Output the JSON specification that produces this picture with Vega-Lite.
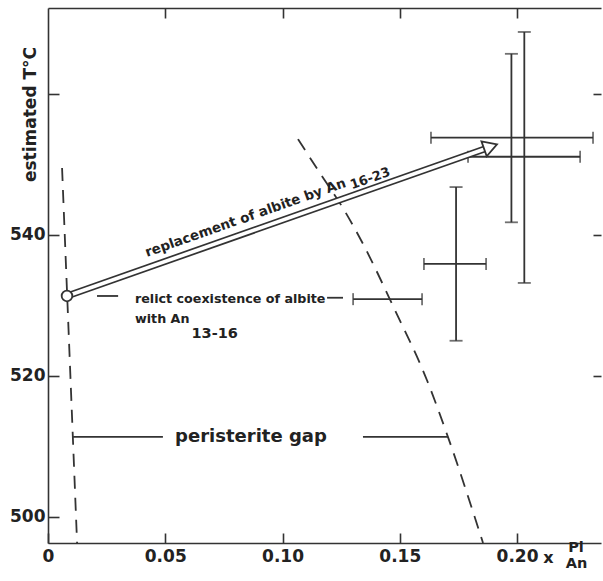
{
  "$schema": "https://vega.github.io/schema/vega-lite/v6.json",
  "width": 553,
  "height": 535,
  "autosize": {"type": "none"},
  "padding": {"left": 48, "top": 8, "right": 2, "bottom": 38},
  "background": "white",
  "config": {
    "view": {"stroke": null},
    "font": "DejaVu Sans",
    "axis": {
      "grid": false,
      "domainColor": "#333",
      "domainWidth": 1.6,
      "tickColor": "#333",
      "tickWidth": 1.6,
      "labelFont": "DejaVu Sans",
      "labelFontSize": 17,
      "labelFontWeight": "bold",
      "labelColor": "#222",
      "labelFlush": false,
      "labelOverlap": false,
      "titleFont": "DejaVu Sans",
      "titleColor": "#222"
    }
  },
  "datasets": {
    "bars": [
      {"x": 0.1976, "y": 553.8, "xlo": 0.1633, "xhi": 0.2324, "ylo": 541.8, "yhi": 565.7},
      {"x": 0.2031, "y": 551.1, "xlo": 0.1791, "xhi": 0.2269, "ylo": 533.2, "yhi": 568.8},
      {"x": 0.1740, "y": 535.9, "xlo": 0.1603, "xhi": 0.1868, "ylo": 525.0, "yhi": 546.8},
      {"x": 0.1448, "y": 530.9, "xlo": 0.1301, "xhi": 0.1595, "ylo": null, "yhi": null}
    ],
    "dashed": [
      {"id": "L", "x": 0.0060, "y": 549.5},
      {"id": "L", "x": 0.0124, "y": 496.31},
      {"id": "R", "x": 0.1066, "y": 553.6},
      {"id": "R", "x": 0.1165, "y": 548.5},
      {"id": "R", "x": 0.1258, "y": 543.8},
      {"id": "R", "x": 0.1339, "y": 539.0},
      {"id": "R", "x": 0.1480, "y": 529.3},
      {"id": "R", "x": 0.1616, "y": 519.4},
      {"id": "R", "x": 0.1706, "y": 511.3},
      {"id": "R", "x": 0.1855, "y": 496.31}
    ],
    "segments": [
      {"x1": 0.0107, "x2": 0.0490, "y": 511.35},
      {"x1": 0.1343, "x2": 0.1706, "y": 511.35},
      {"x1": 0.0209, "x2": 0.0299, "y": 531.35},
      {"x1": 0.1190, "x2": 0.1258, "y": 531.1}
    ],
    "arrow": [
      {"x": 0.0081, "y": 531.35},
      {"x": 0.18678, "y": 552.27}
    ]
  },
  "resolve": {"axis": {"x": "independent", "y": "independent"}},
  "layer": [
    {
      "data": {"name": "dashed"},
      "mark": {"type": "line", "strokeDash": [13, 9], "strokeWidth": 1.8, "color": "#333", "interpolate": "monotone"},
      "encoding": {
        "x": {"field": "x", "type": "quantitative", "scale": {"domain": [0, 0.2358], "nice": false, "zero": false}, "axis": null},
        "y": {"field": "y", "type": "quantitative", "scale": {"domain": [496.31, 572.2], "nice": false, "zero": false}, "axis": null},
        "detail": {"field": "id"}
      }
    },
    {
      "data": {"name": "segments"},
      "mark": {"type": "rule", "strokeWidth": 1.8, "color": "#333"},
      "encoding": {
        "x": {"field": "x1", "type": "quantitative", "scale": {"domain": [0, 0.2358], "nice": false, "zero": false}, "axis": null},
        "x2": {"field": "x2"},
        "y": {"field": "y", "type": "quantitative", "scale": {"domain": [496.31, 572.2], "nice": false, "zero": false}, "axis": null}
      }
    },
    {
      "data": {"name": "bars"},
      "mark": {"type": "rule", "strokeWidth": 1.8, "color": "#333"},
      "encoding": {
        "x": {"field": "xlo", "type": "quantitative", "scale": {"domain": [0, 0.2358], "nice": false, "zero": false},
          "axis": {"orient": "bottom", "values": [0, 0.05, 0.1, 0.15, 0.2], "labelExpr": "datum.value == 0 ? '0' : format(datum.value, '.2f')", "tickSize": -10, "labelPadding": 15, "title": null}},
        "x2": {"field": "xhi"},
        "y": {"field": "y", "type": "quantitative", "scale": {"domain": [496.31, 572.2], "nice": false, "zero": false},
          "axis": {"orient": "left", "values": [500, 520, 540, 560], "labelExpr": "datum.value == 560 ? '' : datum.label", "tickSize": -11, "labelPadding": 14,
            "title": "estimated T°C", "titleX": -13, "titleY": 106, "titleAngle": -90, "titleAlign": "center", "titleBaseline": "alphabetic", "titleFontSize": 17, "titleFontWeight": "bold"}}
      }
    },
    {
      "data": {"name": "bars"},
      "transform": [{"filter": "isValid(datum.ylo)"}],
      "mark": {"type": "rule", "strokeWidth": 1.8, "color": "#333"},
      "encoding": {
        "x": {"field": "x", "type": "quantitative", "scale": {"domain": [0, 0.2358], "nice": false, "zero": false},
          "axis": {"orient": "top", "values": [0.05, 0.1, 0.15, 0.2], "tickSize": -10, "labels": false, "title": null}},
        "y": {"field": "ylo", "type": "quantitative", "scale": {"domain": [496.31, 572.2], "nice": false, "zero": false},
          "axis": {"orient": "right", "values": [520, 540, 560], "tickSize": -8, "labels": false, "domain": false, "title": null}},
        "y2": {"field": "yhi"}
      }
    },
    {
      "data": {"name": "bars"},
      "mark": {"type": "tick", "orient": "vertical", "size": 12, "thickness": 1.8, "color": "#333"},
      "encoding": {
        "x": {"field": "xlo", "type": "quantitative", "scale": {"domain": [0, 0.2358], "nice": false, "zero": false}, "axis": null},
        "y": {"field": "y", "type": "quantitative", "scale": {"domain": [496.31, 572.2], "nice": false, "zero": false}, "axis": null}
      }
    },
    {
      "data": {"name": "bars"},
      "mark": {"type": "tick", "orient": "vertical", "size": 12, "thickness": 1.8, "color": "#333"},
      "encoding": {
        "x": {"field": "xhi", "type": "quantitative", "scale": {"domain": [0, 0.2358], "nice": false, "zero": false}, "axis": null},
        "y": {"field": "y", "type": "quantitative", "scale": {"domain": [496.31, 572.2], "nice": false, "zero": false}, "axis": null}
      }
    },
    {
      "data": {"name": "bars"},
      "transform": [{"filter": "isValid(datum.ylo)"}],
      "mark": {"type": "tick", "orient": "horizontal", "size": 13, "thickness": 1.8, "color": "#333"},
      "encoding": {
        "x": {"field": "x", "type": "quantitative", "scale": {"domain": [0, 0.2358], "nice": false, "zero": false}, "axis": null},
        "y": {"field": "ylo", "type": "quantitative", "scale": {"domain": [496.31, 572.2], "nice": false, "zero": false}, "axis": null}
      }
    },
    {
      "data": {"name": "bars"},
      "transform": [{"filter": "isValid(datum.yhi)"}],
      "mark": {"type": "tick", "orient": "horizontal", "size": 13, "thickness": 1.8, "color": "#333"},
      "encoding": {
        "x": {"field": "x", "type": "quantitative", "scale": {"domain": [0, 0.2358], "nice": false, "zero": false}, "axis": null},
        "y": {"field": "yhi", "type": "quantitative", "scale": {"domain": [496.31, 572.2], "nice": false, "zero": false}, "axis": null}
      }
    },
    {
      "data": {"name": "arrow"},
      "mark": {"type": "line", "strokeWidth": 7, "color": "#333", "strokeCap": "butt"},
      "encoding": {
        "x": {"field": "x", "type": "quantitative", "scale": {"domain": [0, 0.2358], "nice": false, "zero": false}, "axis": null},
        "y": {"field": "y", "type": "quantitative", "scale": {"domain": [496.31, 572.2], "nice": false, "zero": false}, "axis": null}
      }
    },
    {
      "data": {"name": "arrow"},
      "mark": {"type": "line", "strokeWidth": 3.6, "color": "white", "strokeCap": "butt"},
      "encoding": {
        "x": {"field": "x", "type": "quantitative", "scale": {"domain": [0, 0.2358], "nice": false, "zero": false}, "axis": null},
        "y": {"field": "y", "type": "quantitative", "scale": {"domain": [496.31, 572.2], "nice": false, "zero": false}, "axis": null}
      }
    },
    {
      "data": {"values": [{"x": 0.1887, "y": 552.54}]},
      "mark": {"type": "point", "shape": "triangle-right", "size": 250, "angle": -19.4, "filled": true, "fill": "white", "stroke": "#333", "strokeWidth": 1.8, "opacity": 1},
      "encoding": {
        "x": {"field": "x", "type": "quantitative", "scale": {"domain": [0, 0.2358], "nice": false, "zero": false}, "axis": null},
        "y": {"field": "y", "type": "quantitative", "scale": {"domain": [496.31, 572.2], "nice": false, "zero": false}, "axis": null}
      }
    },
    {
      "data": {"values": [{"x": 0.0081, "y": 531.35}]},
      "mark": {"type": "point", "shape": "circle", "size": 113, "filled": true, "fill": "white", "stroke": "#333", "strokeWidth": 1.8, "opacity": 1},
      "encoding": {
        "x": {"field": "x", "type": "quantitative", "scale": {"domain": [0, 0.2358], "nice": false, "zero": false}, "axis": null},
        "y": {"field": "y", "type": "quantitative", "scale": {"domain": [496.31, 572.2], "nice": false, "zero": false}, "axis": null}
      }
    },
    {
      "data": {"values": [{"x": 0.0422, "y": 536.88, "label": "replacement of albite by An"}]},
      "mark": {"type": "text", "angle": -19.4, "align": "left", "baseline": "alphabetic", "fontSize": 13.5, "fontWeight": "bold", "color": "#222"},
      "encoding": {
        "x": {"field": "x", "type": "quantitative", "scale": {"domain": [0, 0.2358], "nice": false, "zero": false}, "axis": null},
        "y": {"field": "y", "type": "quantitative", "scale": {"domain": [496.31, 572.2], "nice": false, "zero": false}, "axis": null},
        "text": {"field": "label"}
      }
    },
    {
      "data": {"values": [{"x": 0.1296, "y": 546.5, "label": "16-23"}]},
      "mark": {"type": "text", "angle": -19.4, "align": "left", "baseline": "alphabetic", "fontSize": 13, "fontWeight": "bold", "color": "#222"},
      "encoding": {
        "x": {"field": "x", "type": "quantitative", "scale": {"domain": [0, 0.2358], "nice": false, "zero": false}, "axis": null},
        "y": {"field": "y", "type": "quantitative", "scale": {"domain": [496.31, 572.2], "nice": false, "zero": false}, "axis": null},
        "text": {"field": "label"}
      }
    },
    {
      "data": {"values": [
        {"x": 0.0371, "y": 530.35, "label": "relict coexistence of albite"},
        {"x": 0.0371, "y": 527.5, "label": "with An"}
      ]},
      "mark": {"type": "text", "align": "left", "baseline": "alphabetic", "fontSize": 12.7, "fontWeight": "bold", "color": "#222"},
      "encoding": {
        "x": {"field": "x", "type": "quantitative", "scale": {"domain": [0, 0.2358], "nice": false, "zero": false}, "axis": null},
        "y": {"field": "y", "type": "quantitative", "scale": {"domain": [496.31, 572.2], "nice": false, "zero": false}, "axis": null},
        "text": {"field": "label"}
      }
    },
    {
      "data": {"values": [{"x": 0.0612, "y": 525.4, "label": "13-16"}]},
      "mark": {"type": "text", "align": "left", "baseline": "alphabetic", "fontSize": 14.5, "fontWeight": "bold", "color": "#222"},
      "encoding": {
        "x": {"field": "x", "type": "quantitative", "scale": {"domain": [0, 0.2358], "nice": false, "zero": false}, "axis": null},
        "y": {"field": "y", "type": "quantitative", "scale": {"domain": [496.31, 572.2], "nice": false, "zero": false}, "axis": null},
        "text": {"field": "label"}
      }
    },
    {
      "data": {"values": [{"x": 0.0542, "y": 510.64, "label": "peristerite gap"}]},
      "mark": {"type": "text", "align": "left", "baseline": "alphabetic", "fontSize": 18, "fontWeight": "bold", "color": "#222"},
      "encoding": {
        "x": {"field": "x", "type": "quantitative", "scale": {"domain": [0, 0.2358], "nice": false, "zero": false}, "axis": null},
        "y": {"field": "y", "type": "quantitative", "scale": {"domain": [496.31, 572.2], "nice": false, "zero": false}, "axis": null},
        "text": {"field": "label"}
      }
    },
    {
      "data": {"values": [{"x": 0.2112, "y": 493.5, "label": "x"}]},
      "mark": {"type": "text", "align": "left", "baseline": "alphabetic", "fontSize": 16, "fontWeight": "bold", "color": "#222"},
      "encoding": {
        "x": {"field": "x", "type": "quantitative", "scale": {"domain": [0, 0.2358], "nice": false, "zero": false}, "axis": null},
        "y": {"field": "y", "type": "quantitative", "scale": {"domain": [496.31, 572.2], "nice": false, "zero": false}, "axis": null},
        "text": {"field": "label"}
      }
    },
    {
      "data": {"values": [
        {"x": 0.2218, "y": 495.04, "label": "Pl"},
        {"x": 0.2208, "y": 492.77, "label": "An"}
      ]},
      "mark": {"type": "text", "align": "left", "baseline": "alphabetic", "fontSize": 14.5, "fontWeight": "bold", "color": "#222"},
      "encoding": {
        "x": {"field": "x", "type": "quantitative", "scale": {"domain": [0, 0.2358], "nice": false, "zero": false}, "axis": null},
        "y": {"field": "y", "type": "quantitative", "scale": {"domain": [496.31, 572.2], "nice": false, "zero": false}, "axis": null},
        "text": {"field": "label"}
      }
    }
  ]
}
